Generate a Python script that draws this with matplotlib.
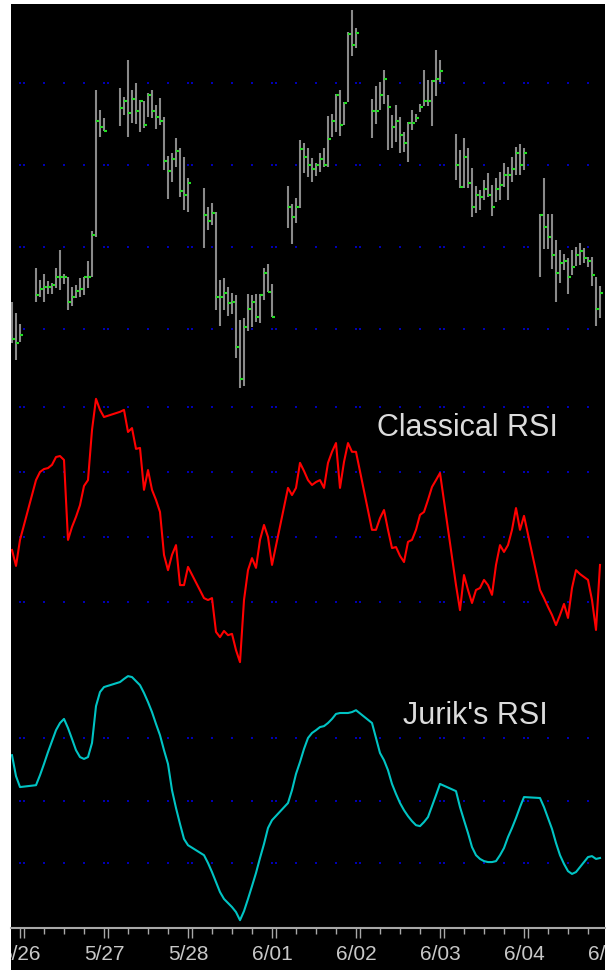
"""
Price bars with Classical RSI vs Jurik's RSI (intraday, 7 sessions)
"""

import numpy as np
import matplotlib
matplotlib.use('Agg')
import matplotlib.pyplot as plt
from matplotlib.transforms import blended_transform_factory

plt.rcParams['font.family'] = ['Liberation Sans', 'DejaVu Sans']

# session labels (one per day boundary, last one is cut by the right edge)
day_labels = ['5/26', '5/27', '5/28', '6/01', '6/02', '6/03', '6/04', '6/05']

# OHLC bars (high / low / close), one row per session
high = [
    1098, 1087, 1076,
    1132, 1120, 1126, 1119, 1117, 1132, 1150, 1126, 1123, 1113, 1115, 1122, 1123, 1139, 1169, 1310, 1290, 1282,
    1312, 1303, 1340, 1310, 1317, 1300, 1299, 1307, 1310, 1295, 1302, 1283, 1244, 1247, 1262, 1252, 1243, 1222,
    1212, 1193, 1197, 1188, 1120, 1122, 1113, 1107, 1105, 1080, 1082, 1106, 1105, 1106, 1106, 1132, 1136, 1116,
    1214, 1196, 1202, 1260, 1257, 1252, 1242, 1237, 1247, 1252, 1284, 1286, 1306, 1310, 1298, 1368, 1390, 1372,
    1301, 1314, 1318, 1330, 1305, 1285, 1295, 1283, 1268, 1278, 1290, 1286, 1296, 1330, 1320, 1320, 1350, 1340,
    1266, 1250, 1262, 1252, 1232, 1214, 1210, 1220, 1227, 1215, 1222, 1228, 1237, 1233, 1243, 1253, 1256, 1252,
    1186, 1222, 1186, 1186, 1160, 1150, 1146, 1142, 1150, 1153, 1157, 1152, 1143, 1143, 1123, 1114,
]
low = [
    1057, 1040, 1058,
    1098, 1103, 1098, 1106, 1106, 1112, 1110, 1116, 1090, 1094, 1102, 1103, 1105, 1112, 1123, 1163, 1263, 1269,
    1274, 1285, 1263, 1277, 1276, 1268, 1272, 1283, 1282, 1271, 1275, 1230, 1201, 1218, 1233, 1203, 1190, 1188,
    1152, 1170, 1175, 1090, 1074, 1090, 1084, 1086, 1042, 1012, 1014, 1069, 1073, 1078, 1077, 1100, 1108, 1083,
    1172, 1156, 1177, 1192, 1227, 1223, 1218, 1224, 1228, 1233, 1233, 1263, 1268, 1264, 1275, 1298, 1344, 1352,
    1262, 1276, 1290, 1296, 1250, 1252, 1258, 1247, 1248, 1238, 1270, 1278, 1288, 1294, 1294, 1274, 1304, 1318,
    1220, 1212, 1212, 1212, 1183, 1187, 1190, 1200, 1203, 1184, 1198, 1200, 1213, 1200, 1218, 1225, 1225, 1230,
    1123, 1151, 1151, 1131, 1098, 1117, 1130, 1106, 1125, 1134, 1135, 1137, 1133, 1114, 1074, 1082,
]
close = [
    1061, 1057, 1065,
    1105, 1111, 1113, 1113, 1115, 1123, 1123, 1123, 1098, 1103, 1109, 1111, 1123, 1123, 1165, 1279, 1273, 1269,
    1292, 1299, 1287, 1301, 1289, 1299, 1275, 1305, 1289, 1283, 1279, 1239, 1229, 1241, 1249, 1209, 1205, 1217,
    1185, 1179, 1187, 1103, 1103, 1107, 1097, 1098, 1053, 1021, 1073, 1091, 1098, 1083, 1105, 1127, 1108, 1083,
    1193, 1183, 1193, 1251, 1243, 1235, 1231, 1235, 1241, 1235, 1261, 1279, 1305, 1275, 1297, 1366, 1355, 1367,
    1289, 1289, 1305, 1321, 1293, 1273, 1279, 1265, 1257, 1277, 1277, 1282, 1293, 1299, 1299, 1319, 1321, 1329,
    1235, 1213, 1243, 1217, 1193, 1205, 1203, 1211, 1205, 1193, 1211, 1215, 1225, 1225, 1231, 1247, 1235, 1247,
    1185, 1173, 1163, 1145, 1127, 1137, 1139, 1123, 1133, 1145, 1149, 1142, 1139, 1125, 1091, 1107,
]

classic_rsi = [
    36.0, 31.1, 39.1,
    57.5, 60.0, 60.9, 61.2, 62.2, 64.6, 64.9, 63.7, 39.1, 43.1, 46.2, 49.8, 55.7, 57.5, 72.9, 82.5, 79.1, 76.9,
    78.5, 79.1, 72.3, 73.5, 67.1, 67.4, 54.5, 60.6, 54.5, 51.4, 47.7, 34.5, 29.8, 34.5, 37.5, 25.2, 25.2, 30.8,
    21.2, 20.6, 21.2, 10.8, 9.2, 11.1, 9.8, 10.2, 5.2, 1.5, 20.6, 29.8, 33.5, 30.5, 39.1, 43.7, 40.0, 31.4,
    55.1, 52.9, 55.1, 62.8, 60.3, 57.5, 56.0, 56.9, 57.5, 55.1, 62.8, 66.2, 68.9, 55.1, 63.1, 68.9, 66.2, 66.2,
    42.2, 42.2, 45.8, 48.3, 42.2, 36.6, 36.9, 34.2, 32.3, 38.5, 39.1, 42.2, 46.8, 47.7, 51.4, 55.4, 57.5, 59.7,
    25.2, 17.5, 28.3, 23.7, 19.7, 23.7, 24.3, 26.8, 25.2, 22.2, 31.4, 37.5, 35.4, 37.5, 42.2, 48.9, 42.2, 46.5,
    23.7, 21.2, 18.5, 16.0, 12.9, 16.0, 19.4, 15.1, 24.3, 29.8, 28.6, 27.7, 26.8, 20.6, 11.4, 31.4,
]
jurik_rsi = [
    64.6, 57.9, 54.4,
    55.0, 58.2, 61.8, 65.6, 69.1, 72.6, 74.9, 76.2, 73.3, 69.8, 66.2, 64.0, 63.4, 64.0, 68.5, 80.3, 84.8, 86.4,
    88.0, 89.0, 89.9, 89.6, 88.3, 87.0, 84.5, 81.6, 78.4, 74.6, 71.0, 66.2, 61.8, 53.4, 47.7, 42.6, 37.8, 35.8,
    32.6, 30.1, 27.2, 24.0, 20.8, 18.6, 17.3, 16.0, 14.4, 11.8, 14.7, 18.6, 22.7, 26.9, 31.7, 36.2, 41.3, 43.8,
    49.3, 53.4, 58.6, 62.4, 66.6, 70.1, 71.7, 72.6, 73.6, 73.9, 74.9, 76.2, 77.8, 78.1, 78.1, 78.1, 78.4, 79.0,
    74.9, 70.1, 65.3, 63.0, 59.8, 55.4, 52.2, 49.3, 47.0, 45.1, 43.5, 42.2, 41.9, 43.2, 44.8, 48.3, 51.8, 55.4,
    53.1, 48.0, 43.8, 39.7, 35.2, 32.6, 31.4, 30.7, 30.4, 30.4, 30.7, 32.6, 34.9, 38.4, 41.3, 44.5, 48.0, 51.2,
    50.9, 48.0, 44.5, 41.0, 36.5, 32.6, 29.8, 27.5, 26.6, 27.2, 28.8, 30.4, 32.0, 32.3, 31.4, 31.7,
]

price_grid = [1317, 1235, 1153, 1071]
rsi_grid = [80, 60, 40, 20]
jurik_grid = [70, 50, 30]

# time slots: each session is 21 slots wide, the first 3 are the overnight gap
SESSION = 21
GAP = 3
N_SLOTS = 148
slots = np.arange(N_SLOTS)
x = slots[(slots - GAP) % SESSION >= GAP]
day_start = np.array([GAP + SESSION * k for k in range(len(day_labels))])

tick_x = np.concatenate([day_start - 1, day_start, day_start + 5, day_start + 10, day_start + 15])
tick_x = np.sort(tick_x[tick_x < N_SLOTS])

W, H = 608, 971
fig = plt.figure(figsize=(W / 100, H / 100), dpi=100, facecolor='white')

def panel(top, bottom):
    ax = fig.add_axes([11 / W, 1 - bottom / H, 594 / W, (bottom - top) / H])
    ax.set_facecolor('black')
    ax.set_xlim(-0.25, N_SLOTS + 0.25)
    ax.set_xticks([])
    ax.set_yticks([])
    for s in ax.spines.values():
        s.set_visible(False)
    return ax

def dotted_grid(ax, levels):
    gx, gy = np.meshgrid(tick_x, levels)
    ax.scatter(gx.ravel(), gy.ravel(), marker='s', s=2.2, color='#0000b4', linewidths=0, zorder=1)

ax_p = panel(4, 392)
ax_r = panel(392, 668)
ax_j = panel(668, 928)
ax_t = panel(928, 970)

# price bars
ax_p.set_ylim(1008, 1396)
dotted_grid(ax_p, price_grid)
ax_p.vlines(x, low, high, colors='#8a8a8a', lw=1.5, zorder=2)
ax_p.hlines(close, x, x + 0.75, colors='#22dd22', lw=1.5, zorder=3)

# classical RSI
ax_r.set_ylim(-0.3, 84.6)
dotted_grid(ax_r, rsi_grid)
ax_r.plot(x, classic_rsi, color='#ff0000', lw=1.5, zorder=2)
ax_r.text(0.616, 0.841, 'Classical RSI', transform=ax_r.transAxes, fontsize=22,
          color='#dcdcdc', va='baseline', ha='left')

# Jurik's RSI
ax_j.set_ylim(9.3, 92.5)
dotted_grid(ax_j, jurik_grid)
ax_j.plot(x, jurik_rsi, color='#00c4c4', lw=1.5, zorder=2)
ax_j.text(0.66, 0.785, "Jurik's RSI", transform=ax_j.transAxes, fontsize=22,
          color='#dcdcdc', va='baseline', ha='left')

# time axis
ax_t.spines['top'].set_visible(True)
ax_t.spines['top'].set_color('#a8a8a8')
ax_t.spines['top'].set_linewidth(1.5)
ax_t.xaxis.set_ticks_position('top')
major = np.sort(np.concatenate([day_start - 1, day_start]))
minor = np.sort(np.concatenate([day_start + 5, day_start + 10, day_start + 15]))
ax_t.set_xticks(major[major < N_SLOTS])
ax_t.set_xticks(minor[minor < N_SLOTS], minor=True)
ax_t.tick_params(axis='x', which='both', direction='in', color='#a8a8a8', width=1.0,
                 labeltop=False, labelbottom=False)
ax_t.tick_params(axis='x', which='major', length=7)
ax_t.tick_params(axis='x', which='minor', length=4.3)
trans = blended_transform_factory(ax_t.transData, ax_t.transAxes)
for b, lab in zip(day_start, day_labels):
    ax_t.text(b - 1, 0.24, lab, transform=trans, fontsize=15, color='#c8c8c8',
              ha='center', va='baseline', clip_on=True)

fig.savefig('out.png', dpi=100, facecolor='white')
